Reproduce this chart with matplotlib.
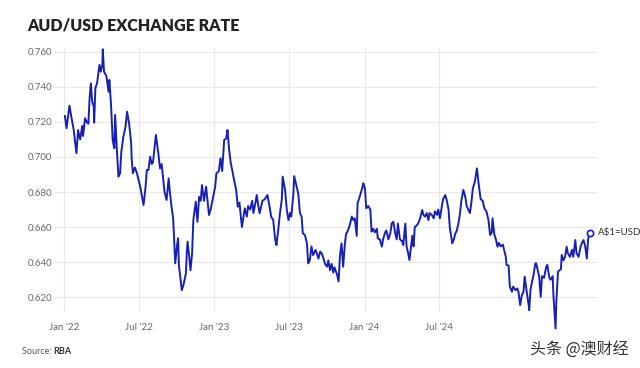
import matplotlib
matplotlib.use("Agg")
import matplotlib.pyplot as plt
import pandas as pd

# ──────────────────────────────────────────────────────────────────────────────
# AUD/USD (RBA series), split by year
# ──────────────────────────────────────────────────────────────────────────────
dates_2022 = [
    "2022-01-03", "2022-01-07", "2022-01-14", "2022-01-20", "2022-01-24", "2022-01-31",
    "2022-02-04", "2022-02-09", "2022-02-14", "2022-02-16", "2022-02-21", "2022-02-25",
    "2022-03-01", "2022-03-04", "2022-03-07", "2022-03-10", "2022-03-14", "2022-03-15",
    "2022-03-18", "2022-03-22", "2022-03-28", "2022-03-31", "2022-04-04", "2022-04-05",
    "2022-04-08", "2022-04-12", "2022-04-14", "2022-04-19", "2022-04-21", "2022-04-25",
    "2022-04-29", "2022-05-03", "2022-05-05", "2022-05-09", "2022-05-13", "2022-05-17",
    "2022-05-20", "2022-05-25", "2022-05-30", "2022-06-03", "2022-06-08", "2022-06-13",
    "2022-06-14", "2022-06-17", "2022-06-22", "2022-06-27", "2022-07-01", "2022-07-05",
    "2022-07-08", "2022-07-13", "2022-07-18", "2022-07-21", "2022-07-25", "2022-07-29",
    "2022-08-02", "2022-08-05", "2022-08-10", "2022-08-12", "2022-08-18", "2022-08-22",
    "2022-08-26", "2022-08-30", "2022-09-02", "2022-09-07", "2022-09-12", "2022-09-15",
    "2022-09-19", "2022-09-23", "2022-09-28", "2022-10-03", "2022-10-05", "2022-10-07",
    "2022-10-11", "2022-10-14", "2022-10-18", "2022-10-24", "2022-10-26", "2022-10-28",
    "2022-11-01", "2022-11-04", "2022-11-08", "2022-11-11", "2022-11-17", "2022-11-21",
    "2022-11-25", "2022-11-29", "2022-12-02", "2022-12-07", "2022-12-12", "2022-12-15",
    "2022-12-19", "2022-12-23", "2022-12-28",
]
rate_2022 = [
    0.7234, 0.7164, 0.7293, 0.7210, 0.7160, 0.7022,
    0.7154, 0.7100, 0.7177, 0.7120, 0.7221, 0.7200,
    0.7190, 0.7336, 0.7420, 0.7320, 0.7288, 0.7196,
    0.7393, 0.7420, 0.7526, 0.7487, 0.7526, 0.7615,
    0.7487, 0.7470, 0.7459, 0.7373, 0.7440, 0.7300,
    0.7097, 0.7050, 0.7240, 0.7050, 0.6888, 0.6907,
    0.7030, 0.7116, 0.7170, 0.7259, 0.7190, 0.7078,
    0.7000, 0.6907, 0.6940, 0.6907, 0.6869, 0.6830,
    0.6790, 0.6726, 0.6830, 0.6926, 0.6926, 0.7002,
    0.6960, 0.6970, 0.7078, 0.7126, 0.7020, 0.6935,
    0.6960, 0.6870, 0.6800, 0.6755, 0.6878, 0.6800,
    0.6716, 0.6650, 0.6393, 0.6507, 0.6536, 0.6380,
    0.6297, 0.6240, 0.6270, 0.6336, 0.6450, 0.6517,
    0.6430, 0.6354, 0.6450, 0.6640, 0.6745, 0.6630,
    0.6773, 0.6750, 0.6840, 0.6750, 0.6830, 0.6760,
    0.6669, 0.6700, 0.6760,
]

dates_2023 = [
    "2023-01-03", "2023-01-06", "2023-01-12", "2023-01-16", "2023-01-20", "2023-01-25",
    "2023-01-30", "2023-02-02", "2023-02-06", "2023-02-10", "2023-02-14", "2023-02-17",
    "2023-02-23", "2023-02-27", "2023-03-03", "2023-03-09", "2023-03-13", "2023-03-16",
    "2023-03-21", "2023-03-24", "2023-03-29", "2023-04-03", "2023-04-06", "2023-04-11",
    "2023-04-14", "2023-04-18", "2023-04-21", "2023-04-28", "2023-05-04", "2023-05-10",
    "2023-05-15", "2023-05-19", "2023-05-24", "2023-05-29", "2023-06-01", "2023-06-06",
    "2023-06-09", "2023-06-14", "2023-06-16", "2023-06-22", "2023-06-26", "2023-06-30",
    "2023-07-04", "2023-07-07", "2023-07-12", "2023-07-14", "2023-07-20", "2023-07-24",
    "2023-07-28", "2023-08-01", "2023-08-04", "2023-08-09", "2023-08-14", "2023-08-17",
    "2023-08-21", "2023-08-25", "2023-08-29", "2023-09-04", "2023-09-07", "2023-09-11",
    "2023-09-15", "2023-09-19", "2023-09-22", "2023-09-27", "2023-10-02", "2023-10-05",
    "2023-10-09", "2023-10-13", "2023-10-17", "2023-10-20", "2023-10-26", "2023-10-30",
    "2023-11-02", "2023-11-06", "2023-11-10", "2023-11-14", "2023-11-17", "2023-11-22",
    "2023-11-27", "2023-12-01", "2023-12-05", "2023-12-08", "2023-12-13", "2023-12-15",
    "2023-12-21", "2023-12-27", "2023-12-29",
]
rate_2023 = [
    0.6830, 0.6907, 0.6920, 0.6993, 0.6920, 0.7097,
    0.7107, 0.7154, 0.7040, 0.6964, 0.6920, 0.6880,
    0.6812, 0.6716, 0.6740, 0.6600, 0.6660, 0.6707,
    0.6660, 0.6720, 0.6700, 0.6750, 0.6680, 0.6740,
    0.6783, 0.6720, 0.6679, 0.6750, 0.6760, 0.6783,
    0.6720, 0.6660, 0.6640, 0.6526, 0.6497, 0.6600,
    0.6670, 0.6760, 0.6888, 0.6810, 0.6700, 0.6640,
    0.6680, 0.6660, 0.6790, 0.6891, 0.6830, 0.6790,
    0.6680, 0.6660, 0.6564, 0.6555, 0.6507, 0.6393,
    0.6410, 0.6490, 0.6440, 0.6470, 0.6450, 0.6420,
    0.6460, 0.6450, 0.6430, 0.6390, 0.6374, 0.6410,
    0.6354, 0.6390, 0.6340, 0.6370, 0.6330, 0.6290,
    0.6430, 0.6507, 0.6374, 0.6500, 0.6560, 0.6583,
    0.6620, 0.6660, 0.6640, 0.6650, 0.6550, 0.6736,
    0.6780, 0.6830, 0.6850,
]

dates_2024 = [
    "2024-01-02", "2024-01-05", "2024-01-10", "2024-01-15", "2024-01-18", "2024-01-22",
    "2024-01-26", "2024-01-31", "2024-02-02", "2024-02-07", "2024-02-12", "2024-02-15",
    "2024-02-20", "2024-02-23", "2024-02-28", "2024-03-04", "2024-03-07", "2024-03-11",
    "2024-03-15", "2024-03-19", "2024-03-22", "2024-03-27", "2024-04-01", "2024-04-04",
    "2024-04-09", "2024-04-12", "2024-04-16", "2024-04-19", "2024-04-22", "2024-04-26",
    "2024-04-29", "2024-05-02", "2024-05-07", "2024-05-10", "2024-05-15", "2024-05-20",
    "2024-05-23", "2024-05-27", "2024-05-31", "2024-06-04", "2024-06-07", "2024-06-12",
    "2024-06-17", "2024-06-20", "2024-06-25", "2024-06-28", "2024-07-02", "2024-07-08",
    "2024-07-10", "2024-07-15", "2024-07-19", "2024-07-23", "2024-07-26", "2024-08-01",
    "2024-08-05", "2024-08-08", "2024-08-12", "2024-08-16", "2024-08-20", "2024-08-23",
    "2024-08-28", "2024-09-02", "2024-09-05", "2024-09-09", "2024-09-13", "2024-09-17",
    "2024-09-20", "2024-09-25", "2024-09-30", "2024-10-04", "2024-10-09", "2024-10-14",
    "2024-10-18", "2024-10-23", "2024-10-28", "2024-11-01", "2024-11-05", "2024-11-07",
    "2024-11-11", "2024-11-15", "2024-11-19", "2024-11-22", "2024-11-27", "2024-12-02",
    "2024-12-05", "2024-12-09", "2024-12-11", "2024-12-16", "2024-12-19", "2024-12-24",
    "2024-12-27",
]
rate_2024 = [
    0.6820, 0.6707, 0.6720, 0.6700, 0.6574, 0.6590,
    0.6570, 0.6590, 0.6536, 0.6530, 0.6488, 0.6530,
    0.6570, 0.6580, 0.6530, 0.6570, 0.6621, 0.6630,
    0.6570, 0.6530, 0.6620, 0.6530, 0.6520, 0.6497,
    0.6620, 0.6490, 0.6450, 0.6412, 0.6470, 0.6550,
    0.6490, 0.6600, 0.6610, 0.6620, 0.6650, 0.6698,
    0.6670, 0.6660, 0.6680, 0.6640, 0.6680, 0.6670,
    0.6650, 0.6690, 0.6670, 0.6700, 0.6650, 0.6736,
    0.6760, 0.6783, 0.6750, 0.6700, 0.6600, 0.6507,
    0.6530, 0.6560, 0.6580, 0.6620, 0.6680, 0.6750,
    0.6812, 0.6770, 0.6720, 0.6700, 0.6680, 0.6750,
    0.6820, 0.6860, 0.6935, 0.6850, 0.6760, 0.6750,
    0.6707, 0.6690, 0.6640, 0.6555, 0.6570, 0.6650,
    0.6560, 0.6530, 0.6488, 0.6510, 0.6490, 0.6500,
    0.6470, 0.6431, 0.6384, 0.6380, 0.6260, 0.6231,
    0.6260,
]

dates_2025 = [
    "2025-01-02", "2025-01-06", "2025-01-09", "2025-01-13", "2025-01-17", "2025-01-21",
    "2025-01-24", "2025-01-29", "2025-02-03", "2025-02-04", "2025-02-07", "2025-02-11",
    "2025-02-14", "2025-02-19", "2025-02-21", "2025-02-28", "2025-03-04", "2025-03-07",
    "2025-03-12", "2025-03-17", "2025-03-20", "2025-03-25", "2025-03-28", "2025-04-02",
    "2025-04-04", "2025-04-09", "2025-04-11", "2025-04-15", "2025-04-22", "2025-04-24",
    "2025-04-28", "2025-05-02", "2025-05-06", "2025-05-09", "2025-05-14", "2025-05-19",
    "2025-05-22", "2025-05-27", "2025-05-30", "2025-06-04", "2025-06-09", "2025-06-12",
    "2025-06-16", "2025-06-20", "2025-06-24", "2025-06-27", "2025-07-01",
]
rate_2025 = [
    0.6240, 0.6250, 0.6230, 0.6155, 0.6210, 0.6230,
    0.6317, 0.6230, 0.6150, 0.6126, 0.6240, 0.6290,
    0.6320, 0.6393, 0.6393, 0.6320, 0.6202, 0.6320,
    0.6310, 0.6370, 0.6384, 0.6310, 0.6300, 0.6320,
    0.6202, 0.6021, 0.6180, 0.6346, 0.6360, 0.6441,
    0.6410, 0.6430, 0.6488, 0.6450, 0.6430, 0.6470,
    0.6430, 0.6526, 0.6450, 0.6430, 0.6490, 0.6510,
    0.6526, 0.6490, 0.6421, 0.6530, 0.6568,
]

y_ticks = [0.620, 0.640, 0.660, 0.680, 0.700, 0.720, 0.740, 0.760]
x_ticks = ["2022-01-01", "2022-07-01", "2023-01-01", "2023-07-01", "2024-01-01", "2024-07-01"]
x_tick_labels = ["Jan '22", "Jul '22", "Jan '23", "Jul '23", "Jan '24", "Jul '24"]

LINE = "#1820b4"
GRID = "#e8e8e8"
TICK = "#666666"

dates = pd.to_datetime(dates_2022 + dates_2023 + dates_2024 + dates_2025)
rates = rate_2022 + rate_2023 + rate_2024 + rate_2025

plt.rcParams["font.family"] = ["Lato", "DejaVu Sans"]

fig = plt.figure(figsize=(6.4, 3.68), dpi=100)
ax = fig.add_axes([0.086, 0.152, 0.847, 0.718])

ax.plot(dates, rates, color=LINE, lw=1.4, clip_on=False, zorder=3)
ax.plot(dates[-1], rates[-1], "o", ms=4.5, mfc="white", mec=LINE, mew=1.2,
        clip_on=False, zorder=4)
ax.annotate("A$1=USD", xy=(dates[-1], rates[-1]), xytext=(6, 0),
            textcoords="offset points", va="center", ha="left",
            fontsize=7, color="#333333", annotation_clip=False)

ax.set_xlim(pd.Timestamp("2021-12-10"), pd.Timestamp("2025-07-19"))
ax.set_ylim(0.6115, 0.7623)

ax.set_yticks(y_ticks)
ax.set_yticklabels([f"{v:.3f}" for v in y_ticks])
ax.set_xticks(pd.to_datetime(x_ticks))
ax.set_xticklabels(x_tick_labels)

ax.grid(True, color=GRID, lw=0.8)
ax.set_axisbelow(True)
for s in ax.spines.values():
    s.set_visible(False)
ax.tick_params(axis="both", length=0, labelsize=7, colors=TICK)
ax.tick_params(axis="x", pad=8)
ax.tick_params(axis="y", pad=2)

# Заголовок и подписи
fig.text(0.042, 0.918, "AUD/USD EXCHANGE RATE", fontsize=11.5, fontweight="heavy",
         color="#222222", ha="left", va="baseline")

src = fig.text(0.034, 0.038, "Source: ", fontsize=6.5, color="#555555",
               ha="left", va="baseline")
ax.annotate("RBA", xy=(1, 0), xycoords=src, va="bottom", ha="left",
            fontsize=6.5, fontweight="bold", color="#333333")

fig.text(0.982, 0.035, "头条 @澳财经", fontsize=11.5, color="#333333",
         ha="right", va="baseline", family=["Noto Sans CJK SC", "DejaVu Sans"])

fig.savefig("out.png", dpi=100)
